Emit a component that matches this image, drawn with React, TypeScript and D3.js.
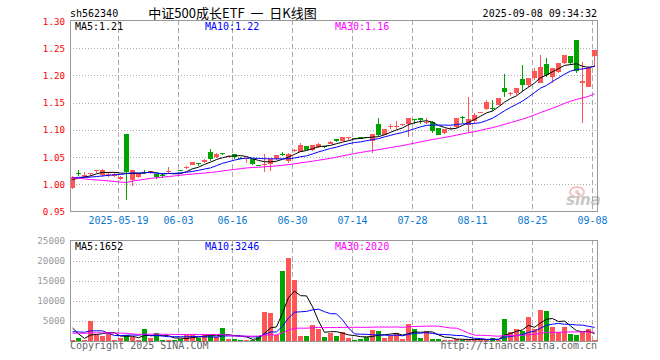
import React from "react";
import * as d3 from "d3";

// Trading days (2025), one per candle
const dates = [
  "05-07","05-08","05-09","05-12","05-13","05-14","05-15","05-16","05-19","05-20",
  "05-21","05-22","05-23","05-26","05-27","05-28","05-29","05-30","06-03","06-04",
  "06-05","06-06","06-09","06-10","06-11","06-12","06-13","06-16","06-17","06-18",
  "06-19","06-20","06-23","06-24","06-25","06-26","06-27","06-30","07-01","07-02",
  "07-03","07-04","07-07","07-08","07-09","07-10","07-11","07-14","07-15","07-16",
  "07-17","07-18","07-21","07-22","07-23","07-24","07-25","07-28","07-29","07-30",
  "07-31","08-01","08-04","08-05","08-06","08-07","08-08","08-11","08-12","08-13",
  "08-14","08-15","08-18","08-19","08-20","08-21","08-22","08-25","08-26","08-27",
  "08-28","08-29","09-01","09-02","09-03","09-04","09-05","09-08",
];

const open = [
  0.994,1.021,1.014,1.019,1.025,1.017,1.018,1.016,1.009,1.092,
  1.0075,1.0125,1.023,1.020,1.018,1.017,1.024,1.020,1.026,1.031,
  1.036,1.040,1.041,1.060,1.051,1.0576,1.051,1.056,1.049,1.0475,
  1.047,1.036,1.0355,1.0377,1.0463,1.0557,1.042,1.0617,1.0593,1.0698,
  1.0636,1.068,1.071,1.0747,1.0838,1.080,1.086,1.085,1.0874,1.0868,
  1.080,1.111,1.091,1.106,1.105,1.110,1.110,1.120,1.121,1.113,
  1.114,1.103,1.094,1.103,1.106,1.124,1.109,1.1154,1.133,1.138,
  1.141,1.146,1.1766,1.167,1.167,1.1937,1.1827,1.195,1.187,1.2212,
  1.198,1.206,1.2225,1.236,1.2653,1.1857,1.1796,1.2359,
];
const high = [
  1.015,1.026,1.022,1.021,1.027,1.029,1.022,1.022,1.016,1.092,
  1.027,1.021,1.027,1.025,1.018,1.018,1.031,1.021,1.027,1.034,
  1.041,1.040,1.047,1.065,1.057,1.0576,1.053,1.056,1.050,1.049,
  1.047,1.036,1.0565,1.0463,1.0543,1.0587,1.058,1.065,1.0753,1.071,
  1.0728,1.076,1.071,1.079,1.0838,1.0874,1.0868,1.0855,1.0874,1.087,
  1.092,1.121,1.1018,1.111,1.116,1.1103,1.121,1.1203,1.121,1.121,
  1.1163,1.103,1.1012,1.105,1.1215,1.1258,1.161,1.1307,1.1337,1.154,
  1.154,1.158,1.203,1.170,1.1766,1.2194,1.195,1.2133,1.2378,1.2316,
  1.2133,1.2237,1.2378,1.236,1.2653,1.2255,1.2176,1.247,
];
const low = [
  0.992,1.015,1.011,1.016,1.020,1.014,1.014,1.014,1.007,0.972,
  0.996,1.011,1.019,1.019,1.009,1.012,1.018,1.018,1.024,1.028,
  1.035,1.033,1.040,1.042,1.049,1.053,1.050,1.047,1.047,1.039,
  1.036,1.034,1.022,1.0247,1.045,1.0513,1.039,1.059,1.0593,1.0624,
  1.0605,1.066,1.0667,1.0741,1.078,1.079,1.082,1.083,1.0832,1.085,
  1.058,1.088,1.090,1.102,1.102,1.108,1.086,1.110,1.110,1.110,
  1.094,1.0898,1.093,1.102,1.104,1.1135,1.094,1.1123,1.131,1.137,
  1.134,1.145,1.161,1.163,1.164,1.1704,1.1796,1.1919,1.1857,1.198,
  1.1857,1.204,1.2212,1.2194,1.2053,1.1123,1.1784,1.2163,
];
const close = [
  1.013,1.020,1.017,1.020,1.026,1.026,1.019,1.019,1.013,1.023,
  1.026,1.019,1.022,1.024,1.014,1.015,1.0245,1.019,1.0255,1.032,
  1.041,1.0395,1.045,1.046,1.056,1.0574,1.052,1.050,1.048,1.048,
  1.038,1.0355,1.038,1.0463,1.0543,1.0555,1.056,1.063,1.0716,1.0636,
  1.0728,1.074,1.0685,1.0785,1.079,1.0874,1.0868,1.0845,1.0838,1.086,
  1.092,1.091,1.1018,1.1066,1.1078,1.1103,1.121,1.1198,1.1187,1.114,
  1.097,1.091,1.1012,1.104,1.1215,1.123,1.1196,1.1276,1.1337,1.152,
  1.140,1.158,1.1704,1.1674,1.1766,1.1827,1.195,1.2084,1.2163,1.201,
  1.2133,1.2237,1.2378,1.2237,1.209,1.190,1.2133,1.247,
];
const volume = [
  250,750,250,5000,1500,1250,2000,250,750,1500,
  1000,250,3000,750,2000,250,250,250,500,1500,
  1500,750,1500,1250,1000,3250,500,500,250,250,
  250,1250,7250,7000,1500,17500,20750,15250,1250,1250,
  4000,3000,1000,2000,1250,2250,750,250,500,1000,
  2750,2500,750,1250,2000,500,4250,3000,750,2500,
  500,500,250,250,500,250,250,250,250,250,
  750,250,5500,2250,3000,2500,6000,3000,7750,7500,
  3500,2250,3500,1750,1500,2250,3000,250,
];

// Sessions before the first candle, estimated from where the MA lines start
const priorCloses = [
  1.052,1.048,1.055,1.050,1.046,1.049,1.051,1.045,1.047,
  0.955,0.962,0.975,0.970,0.985,0.980,0.988,0.990,0.985,0.995,1.012,
  1.012,1.018,1.015,1.016,1.014,1.010,1.006,1.009,1.007,
];
const priorVolumes = [
  1200,1500,1800,1300,1600,1400,1700,1500,
  3500,5000,4000,
  1200,1000,1300,900,1100,1200,1000,1300,1100,1200,1200,
  1400,1350,1400,8000,6000,800,800,
];

const tickDates = ["05-19","06-03","06-16","06-30","07-14","07-28","08-11","08-25","09-08"];
const tickLabels = ["2025-05-19","06-03","06-16","06-30","07-14","07-28","08-11","08-25","09-08"];
const priceTicks = [1.30,1.25,1.20,1.15,1.10,1.05,1.00,0.95];
const volTicks = [25000,20000,15000,10000,5000];
const maPeriods = [5,10,30];
const maColors = ["#000000","#0000ff","#ff00ff"];
const priceMaLabels = ["MA5:1.21","MA10:1.22","MA30:1.16"];
const volMaLabels = ["MA5:1652","MA10:3246","MA30:2020"];

const RED = "#ff5555";
const GREEN = "#00a400";
const GRID = "#aaaaaa";
const MONO = "'DejaVu Sans Mono', 'Liberation Mono', monospace";

function movingAvg(series: number[], prior: number[], n: number) {
  const all = prior.concat(series);
  return series.map((_, i) => {
    const end = prior.length + i + 1;
    return d3.mean(all.slice(end - n, end)) as number;
  });
}

export default function App() {
  const L = 70, R = 597;
  const pTop = 20, pBot = 211;
  const vTop = 240, vBot = 341;
  const x = d3.scaleLinear().domain([0, dates.length]).range([L, L + 6 * dates.length]);
  const y = d3.scaleLinear().domain([0.95, 1.30]).range([211.5, 21]);
  const yv = d3.scaleLinear().domain([0, 25000]).range([340.7, 240.7]);

  const priceMAs = maPeriods.map((n) => movingAvg(close, priorCloses, n));
  const volMAs = maPeriods.map((n) => movingAvg(volume, priorVolumes, n));
  const priceLine = d3.line<number>().x((_, i) => x(i) + 2.5).y((d) => y(d));
  const volLine = d3.line<number>().x((_, i) => x(i) + 2.5).y((d) => yv(d));

  const tickIdx = tickDates.map((d) => dates.indexOf(d));
  const isUp = (i: number) => close[i] >= open[i];
  const snap = (v: number) => Math.round(v) + 0.5;

  return (
    <svg width={660} height={360} style={{ position: "absolute", left: 0, top: 0, background: "#fff" }}
      fontFamily={MONO}>
      {/* header */}
      <text x={70} y={16.5} fontSize={10} fill="#000">sh562340</text>
      <text x={232.5} y={17.5} fontSize={13} textAnchor="middle" fill="#000"
        fontFamily="'Noto Sans CJK SC', sans-serif" style={{ whiteSpace: "pre" }}>{"中证500成长ETF  一  日K线图"}</text>
      <text x={597} y={16.5} fontSize={10} textAnchor="end" fill="#000">2025-09-08 09:34:32</text>

      {/* price grid */}
      {priceTicks.slice(1, -1).map((t) => (
        <line key={"hg" + t} x1={L} x2={R} y1={snap(y(t))} y2={snap(y(t))}
          stroke={GRID} strokeDasharray="1,2" shapeRendering="crispEdges" />
      ))}
      {tickIdx.map((i) => (
        <line key={"vg" + i} x1={x(i) + 0.5} x2={x(i) + 0.5} y1={pTop} y2={pBot}
          stroke={GRID} strokeDasharray="5,3" shapeRendering="crispEdges" />
      ))}
      {/* volume grid */}
      {volTicks.slice(1).map((t) => (
        <line key={"vhg" + t} x1={L} x2={R} y1={snap(yv(t))} y2={snap(yv(t))}
          stroke={GRID} strokeDasharray="1,2" shapeRendering="crispEdges" />
      ))}
      {tickIdx.map((i) => (
        <line key={"vvg" + i} x1={x(i) + 0.5} x2={x(i) + 0.5} y1={vTop} y2={vBot}
          stroke={GRID} strokeDasharray="5,3" shapeRendering="crispEdges" />
      ))}

      {/* watermark */}
      <g opacity={0.55}>
        <ellipse cx={577} cy={192} rx={7} ry={5} fill="none" stroke="#e89090" strokeWidth={2} />
        <circle cx={577} cy={192} r={2} fill="#e89090" />
        <text x={566} y={205} fontSize={15} fontWeight="bold" fontStyle="italic" fill="#999"
          fontFamily="'DejaVu Sans', sans-serif">sina</text>
      </g>

      {/* candles */}
      {dates.map((d, i) => {
        const c = isUp(i) ? RED : GREEN;
        const top = y(Math.max(open[i], close[i]));
        const bot = y(Math.min(open[i], close[i]));
        return (
          <g key={"k" + d} shapeRendering="crispEdges">
            <line x1={x(i) + 2.5} x2={x(i) + 2.5} y1={y(high[i])} y2={y(low[i])} stroke={c} />
            <rect x={x(i)} width={5} y={top} height={Math.max(1, bot - top)} fill={c} />
          </g>
        );
      })}
      {priceMAs.map((m, k) => (
        <path key={"pm" + k} d={priceLine(m) || ""} fill="none" stroke={maColors[k]} strokeWidth={1} />
      ))}

      {/* volume bars */}
      {volume.map((v, i) => (
        <rect key={"v" + i} x={x(i)} width={5} y={yv(v)} height={340.7 - yv(v)}
          fill={isUp(i) ? RED : GREEN} shapeRendering="crispEdges" />
      ))}
      {volMAs.map((m, k) => (
        <path key={"vm" + k} d={volLine(m) || ""} fill="none" stroke={maColors[k]} strokeWidth={1} />
      ))}

      {/* frames */}
      <rect x={L + 0.5} y={pTop + 0.5} width={R - L} height={pBot - pTop} fill="none" stroke="#999" />
      <rect x={L + 0.5} y={vTop + 0.5} width={R - L} height={vBot - vTop} fill="none" stroke="#999" />

      {/* price axis labels */}
      {priceTicks.map((t) => (
        <text key={"pl" + t} x={65} y={y(t) + 3.5} fontSize={9.2} textAnchor="end" fill="#ff0000">
          {t.toFixed(2)}
        </text>
      ))}
      {tickIdx.map((i, k) => (
        <text key={"xl" + i} x={x(i) + 0.5} y={224} fontSize={10} textAnchor="middle" fill="#0a78d0">
          {tickLabels[k]}
        </text>
      ))}
      {priceMaLabels.map((s, k) => (
        <text key={"pml" + k} x={75 + 130 * k} y={29.5} fontSize={10} fill={maColors[k]}>{s}</text>
      ))}

      {/* volume axis labels */}
      {[25000, ...volTicks.slice(1)].map((t) => (
        <text key={"vl" + t} x={65} y={yv(t) + 3.5} fontSize={9.2} textAnchor="end" fill="#999">{t}</text>
      ))}
      {volMaLabels.map((s, k) => (
        <text key={"vml" + k} x={75 + 130 * k} y={250} fontSize={10} fill={maColors[k]}>{s}</text>
      ))}

      <text x={70} y={349} fontSize={10} fill="#666">Copyright 2025 SINA.COM</text>
      <text x={597} y={349} fontSize={10} textAnchor="end" fill="#666">http://finance.sina.com.cn</text>
    </svg>
  );
}
